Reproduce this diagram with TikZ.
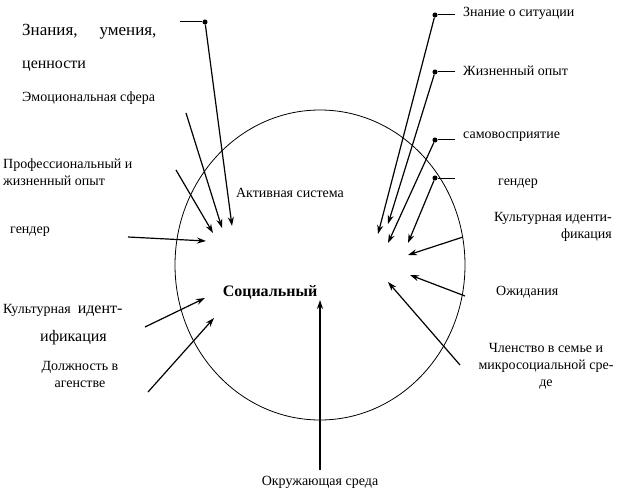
\documentclass[tikz,border=0pt]{standalone}
\usepackage{fontspec}
\setmainfont{Liberation Serif}
\usetikzlibrary{arrows.meta}
\begin{document}
\begin{tikzpicture}[x=1pt,y=-1pt,
  arr/.style={-{Stealth[length=9pt,width=6pt]},line width=1.2pt},
  dot/.style={circle,fill,inner sep=1.8pt},
  lbl/.style={font=\fontsize{14}{17}\selectfont,align=center,inner sep=0pt}]
\useasboundingbox (0,0) rectangle (631,497);
\draw[line width=0.8pt] (320,265) ellipse (145 and 155);
% left
\coordinate (lt) at (180,22);
\node[dot] (d1) at (205,22) {};
\draw[line width=1pt] (lt) -- (d1);
\coordinate (h1) at (232,226);
\draw[arr] (d1) -- (h1);
\node[lbl,anchor=west,font=\fontsize{17}{20}\selectfont] (t1) at (22,32) {Знания,\hspace{22pt}умения,};
\node[lbl,anchor=west,font=\fontsize{16}{19}\selectfont] (t1b) at (22,66) {ценности};
\node[lbl,anchor=west] (t2) at (22,98) {Эмоциональная сфера};
\coordinate (s2) at (186,113); \coordinate (h2) at (222,228);
\draw[arr] (s2) -- (h2);
\node[lbl,align=left,anchor=west] (t3) at (3,172) {Профессиональный и\\жизненный опыт};
\coordinate (s3) at (176,170); \coordinate (h3) at (213,233);
\draw[arr] (s3) -- (h3);
\node[lbl,anchor=west] (t4) at (10,232) {гендер};
\coordinate (s4) at (128,237); \coordinate (h4) at (206,241);
\draw[arr] (s4) -- (h4);
\node[lbl,anchor=west] (t5) at (3,310) {Культурная\enspace{\fontsize{16}{19}\selectfont идент-}};
\node[lbl,anchor=west,font=\fontsize{16}{19}\selectfont] (t5b) at (40,338) {ификация};
\coordinate (s5) at (145,327); \coordinate (h5) at (205,298);
\draw[arr] (s5) -- (h5);
\node[lbl,align=center] (t6) at (80,374) {Должность в\\агенстве};
\coordinate (s6) at (148,392); \coordinate (h6) at (214,318);
\draw[arr] (s6) -- (h6);
% center
\node[lbl] (act) at (290,193) {Активная система};
\node[lbl,font=\bfseries\fontsize{16}{19}\selectfont] (soc) at (270,292) {Социальный};
\node[lbl] (env) at (320,482) {Окружающая среда};
\coordinate (hb) at (320,300);
\coordinate (sb) at (320,470);
\draw[arr] (sb) -- (hb);
% right
\foreach \n/\y in {a/15,b/72,c/140,d/178}{
  \node[dot] (r\n) at (435,\y) {};
  \draw[line width=1pt] (r\n) -- (455,\y);
}
\coordinate (ha) at (378,234); \coordinate (hbb) at (388,224);
\coordinate (hc) at (388,243); \coordinate (hd) at (408,243);
\draw[arr] (ra) -- (ha); \draw[arr] (rb) -- (hbb);
\draw[arr] (rc) -- (hc); \draw[arr] (rd) -- (hd);
\node[lbl,anchor=west] at (463,13) {Знание о ситуации};
\node[lbl,anchor=west] at (463,71) {Жизненный опыт};
\node[lbl,anchor=west] at (463,137) {самовосприятие};
\node[lbl,anchor=west] at (498,184) {гендер};
\node[lbl,align=right,anchor=north east] at (612,212) {Культурная иденти-\\фикация};
\coordinate (se) at (463,237); \coordinate (he) at (408,255);
\draw[arr] (se) -- (he);
\node[lbl,anchor=west] at (496,292) {Ожидания};
\coordinate (sf) at (465,296); \coordinate (hf) at (410,275);
\draw[arr] (sf) -- (hf);
\node[lbl,align=center] at (546,366) {Членство в семье и\\микросоциальной сре-\\де};
\coordinate (sg) at (460,365); \coordinate (hg) at (388,282);
\draw[arr] (sg) -- (hg);
\end{tikzpicture}
\end{document}
